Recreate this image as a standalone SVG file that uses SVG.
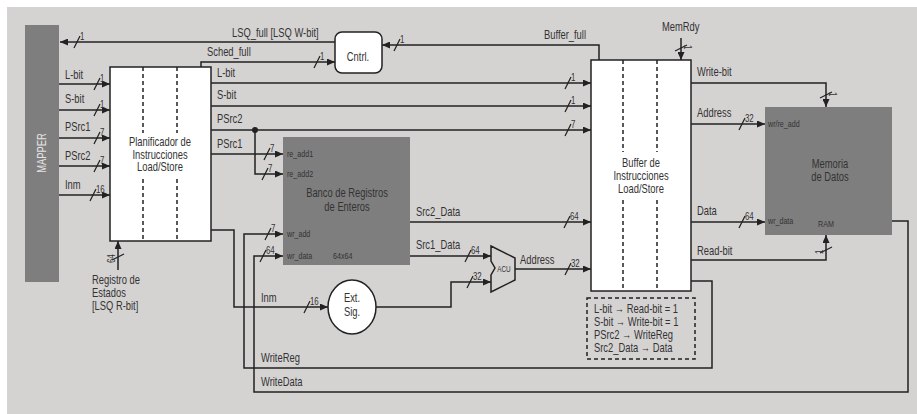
<svg xmlns="http://www.w3.org/2000/svg" width="917" height="414" viewBox="0 0 917 414">
<style>
text{font-family:"Liberation Sans",Arial,sans-serif;fill:#333}
.s{font-size:12.5px}
.n{font-size:10.5px}
.p{font-size:9.5px}
.a{font-size:8.5px}
.m{text-anchor:middle}
.w{stroke:#222;stroke-width:1.5;fill:none}
.ar{marker-end:url(#ah)}
.sl{stroke:#222;stroke-width:1.2;fill:none}
.box{fill:#fff;stroke:#222;stroke-width:1.5}
.dk{fill:#7f7e7e}
.dash{stroke:#222;stroke-width:1.5;stroke-dasharray:4 3;fill:none}
</style>
<defs>
<marker id="ah" markerWidth="8" markerHeight="7" refX="8" refY="3.5" orient="auto" markerUnits="userSpaceOnUse"><path d="M0,0 L8,3.5 L0,7z" fill="#222"/></marker>
<path id="sh" d="M-3,6 L3,-6"/>
<path id="sv" d="M-6,3 L6,-3"/>
</defs>
<rect width="917" height="414" fill="#fff"/>
<rect x="7" y="7" width="910" height="407" fill="#d5d2d2"/>

<g id="mapper">
<rect class="dk" x="25" y="25" width="34" height="257"/>
<text class="s m" transform="translate(46 153) rotate(-90) scale(.75 1)" style="fill:#e4e2e2">MAPPER</text>
</g>

<g id="planificador">
<rect class="box" x="110" y="67" width="101" height="174"/>
<line class="dash" x1="143" y1="67" x2="143" y2="241"/>
<line class="dash" x1="177" y1="67" x2="177" y2="241"/>
<rect x="127" y="133" width="66" height="44" fill="#fff"/>
<text class="s m" transform="translate(160 146) scale(.75 1)">Planificador de</text>
<text class="s m" transform="translate(160 159) scale(.75 1)">Instrucciones</text>
<text class="s m" transform="translate(160 171) scale(.75 1)">Load/Store</text>
</g>

<g id="cntrl">
<rect class="box" x="335" y="32" width="47" height="41" rx="7"/>
<text class="s m" transform="translate(358 61) scale(.75 1)">Cntrl.</text>
</g>

<g id="banco">
<rect class="dk" x="283" y="137" width="127" height="128"/>
<text class="s m" transform="translate(347 197) scale(.75 1)">Banco de Registros</text>
<text class="s m" transform="translate(347 211) scale(.75 1)">de Enteros</text>
<text class="p" transform="translate(287 157) scale(.75 1)">re_add1</text>
<text class="p" transform="translate(287 177) scale(.75 1)">re_add2</text>
<text class="p" transform="translate(287 237) scale(.75 1)">wr_add</text>
<text class="p" transform="translate(287 259) scale(.75 1)">wr_data</text>
<text class="p" transform="translate(333 259) scale(.75 1)">64x64</text>
</g>

<g id="extsig">
<ellipse class="box" cx="352" cy="307" rx="24" ry="27"/>
<text class="s m" transform="translate(352 302) scale(.75 1)">Ext.</text>
<text class="s m" transform="translate(352 316) scale(.75 1)">Sig.</text>
</g>

<g id="acu">
<polygon points="491,246 515,258 515,280 491,292 491,275 495,268 491,261" fill="#d5d2d2" stroke="#222" stroke-width="1.5"/>
<text class="a m" transform="translate(504 272) scale(.75 1)">ACU</text>
</g>

<g id="buffer">
<rect class="box" x="591" y="60" width="100" height="231"/>
<line class="dash" x1="623" y1="60" x2="623" y2="291"/>
<line class="dash" x1="657" y1="60" x2="657" y2="291"/>
<rect x="607" y="152" width="68" height="47" fill="#fff"/>
<text class="s m" transform="translate(641 167) scale(.75 1)">Buffer de</text>
<text class="s m" transform="translate(641 180) scale(.75 1)">Instrucciones</text>
<text class="s m" transform="translate(641 193) scale(.75 1)">Load/Store</text>
</g>

<g id="memoria">
<rect class="dk" x="765" y="107" width="127" height="128"/>
<text class="s m" transform="translate(830 168) scale(.75 1)">Memoria</text>
<text class="s m" transform="translate(830 181) scale(.75 1)">de Datos</text>
<text class="p" transform="translate(768 127) scale(.75 1)">wr/re_add</text>
<text class="p" transform="translate(768 224) scale(.75 1)">wr_data</text>
<text class="p m" transform="translate(826 227) scale(.75 1)">RAM</text>
</g>

<g id="legend">
<rect class="dash" x="587" y="298" width="108" height="61"/>
<text class="s" transform="translate(594 313) scale(.75 1)">L-bit → Read-bit = 1</text>
<text class="s" transform="translate(594 326) scale(.75 1)">S-bit → Write-bit = 1</text>
<text class="s" transform="translate(594 339) scale(.75 1)">PSrc2 → WriteReg</text>
<text class="s" transform="translate(594 352) scale(.75 1)">Src2_Data → Data</text>
</g>

<g id="registro-estados">
<text class="s" transform="translate(92 284) scale(.75 1)">Registro de</text>
<text class="s" transform="translate(92 297) scale(.75 1)">Estados</text>
<text class="s" transform="translate(92 310) scale(.75 1)">[LSQ R-bit]</text>
</g>

<g id="connectors">
<path class="w ar" d="M335,42 H60"/>
<path class="w ar" d="M201,67 V62 H335"/>
<path class="w ar" d="M599,60 V45 H382"/>
<path class="w ar" d="M59,84 H110"/>
<path class="w ar" d="M59,110 H110"/>
<path class="w ar" d="M59,138 H110"/>
<path class="w ar" d="M59,166 H110"/>
<path class="w ar" d="M59,195 H110"/>
<path class="w ar" d="M211,83 H591"/>
<path class="w ar" d="M211,106 H591"/>
<path class="w ar" d="M211,130 H591"/>
<path class="w ar" d="M211,154 H283"/>
<path class="w ar" d="M255,130 V174 H283"/>
<circle cx="255" cy="130" r="3" fill="#222"/>
<path class="w ar" d="M211,230 H234 V307 H328"/>
<path class="w ar" d="M691,281 H712 V368 H244 V234 H283"/>
<path class="w ar" d="M892,221 H908 V392 H254 V256 H283"/>
<path class="w ar" d="M410,222 H591"/>
<path class="w ar" d="M410,256 H491"/>
<path class="w ar" d="M376,307 H451 V282 H491"/>
<path class="w ar" d="M515,269 H591"/>
<path class="w ar" d="M681,38 V60"/>
<path class="w ar" d="M691,83 H826 V107"/>
<path class="w ar" d="M691,124 H765"/>
<path class="w ar" d="M691,222 H765"/>
<path class="w ar" d="M691,260 H826 V235"/>
<path class="w ar" d="M118,270 V241"/>
</g>

<g id="bus-widths">
<use href="#sh" class="sl" x="77" y="42"/><text class="n" transform="translate(80 40) scale(.75 1)">1</text>
<use href="#sh" class="sl" x="317" y="62"/><text class="n" transform="translate(320 60) scale(.75 1)">1</text>
<use href="#sh" class="sl" x="397" y="45"/><text class="n" transform="translate(400 43) scale(.75 1)">1</text>
<use href="#sh" class="sl" x="97" y="84"/><text class="n" transform="translate(100 82) scale(.75 1)">1</text>
<use href="#sh" class="sl" x="97" y="110"/><text class="n" transform="translate(100 108) scale(.75 1)">1</text>
<use href="#sh" class="sl" x="97" y="138"/><text class="n" transform="translate(100 136) scale(.75 1)">7</text>
<use href="#sh" class="sl" x="97" y="166"/><text class="n" transform="translate(100 164) scale(.75 1)">7</text>
<use href="#sh" class="sl" x="93" y="195"/><text class="n" transform="translate(96 193) scale(.75 1)">16</text>
<use href="#sh" class="sl" x="568" y="83"/><text class="n" transform="translate(571 81) scale(.75 1)">1</text>
<use href="#sh" class="sl" x="568" y="106"/><text class="n" transform="translate(571 104) scale(.75 1)">1</text>
<use href="#sh" class="sl" x="568" y="130"/><text class="n" transform="translate(571 128) scale(.75 1)">7</text>
<use href="#sh" class="sl" x="267" y="154"/><text class="n" transform="translate(270 152) scale(.75 1)">7</text>
<use href="#sh" class="sl" x="265" y="174"/><text class="n" transform="translate(268 172) scale(.75 1)">7</text>
<use href="#sh" class="sl" x="268" y="234"/><text class="n" transform="translate(271 232) scale(.75 1)">7</text>
<use href="#sh" class="sl" x="263" y="256"/><text class="n" transform="translate(266 254) scale(.75 1)">64</text>
<use href="#sh" class="sl" x="307" y="307"/><text class="n" transform="translate(310 305) scale(.75 1)">16</text>
<use href="#sh" class="sl" x="567" y="222"/><text class="n" transform="translate(570 220) scale(.75 1)">64</text>
<use href="#sh" class="sl" x="468" y="256"/><text class="n" transform="translate(471 254) scale(.75 1)">64</text>
<use href="#sh" class="sl" x="470" y="282"/><text class="n" transform="translate(473 280) scale(.75 1)">32</text>
<use href="#sh" class="sl" x="568" y="269"/><text class="n" transform="translate(571 267) scale(.75 1)">32</text>
<use href="#sh" class="sl" x="742" y="124"/><text class="n" transform="translate(745 122) scale(.75 1)">32</text>
<use href="#sh" class="sl" x="742" y="222"/><text class="n" transform="translate(745 220) scale(.75 1)">64</text>
<use href="#sv" class="sl" x="681" y="48"/><text class="n" transform="translate(684 45) rotate(90) scale(.75 1)">1</text>
<use href="#sv" class="sl" x="826" y="95"/><text class="n" transform="translate(829 92) rotate(90) scale(.75 1)">1</text>
<use href="#sv" class="sl" x="826" y="250"/><text class="n" transform="translate(823 254) rotate(-90) scale(.75 1)">1</text>
<use href="#sv" class="sl" x="118" y="257"/><text class="n" transform="translate(115 263) rotate(-90) scale(.75 1)">64</text>
</g>

<g id="connector-labels">
<text class="s" transform="translate(232 37) scale(.75 1)">LSQ_full [LSQ W-bit]</text>
<text class="s" transform="translate(207 56) scale(.75 1)">Sched_full</text>
<text class="s" transform="translate(544 39) scale(.75 1)">Buffer_full</text>
<text class="s" transform="translate(662 31) scale(.75 1)">MemRdy</text>
<text class="s" transform="translate(65 79) scale(.75 1)">L-bit</text>
<text class="s" transform="translate(65 103) scale(.75 1)">S-bit</text>
<text class="s" transform="translate(65 131) scale(.75 1)">PSrc1</text>
<text class="s" transform="translate(65 160) scale(.75 1)">PSrc2</text>
<text class="s" transform="translate(65 189) scale(.75 1)">Inm</text>
<text class="s" transform="translate(217 77) scale(.75 1)">L-bit</text>
<text class="s" transform="translate(217 99) scale(.75 1)">S-bit</text>
<text class="s" transform="translate(217 123) scale(.75 1)">PSrc2</text>
<text class="s" transform="translate(217 148) scale(.75 1)">PSrc1</text>
<text class="s" transform="translate(416 216) scale(.75 1)">Src2_Data</text>
<text class="s" transform="translate(416 249) scale(.75 1)">Src1_Data</text>
<text class="s" transform="translate(520 264) scale(.75 1)">Address</text>
<text class="s" transform="translate(261 302) scale(.75 1)">Inm</text>
<text class="s" transform="translate(261 362) scale(.75 1)">WriteReg</text>
<text class="s" transform="translate(261 386) scale(.75 1)">WriteData</text>
<text class="s" transform="translate(697 76) scale(.75 1)">Write-bit</text>
<text class="s" transform="translate(697 117) scale(.75 1)">Address</text>
<text class="s" transform="translate(697 215) scale(.75 1)">Data</text>
<text class="s" transform="translate(697 255) scale(.75 1)">Read-bit</text>
</g>
</svg>
